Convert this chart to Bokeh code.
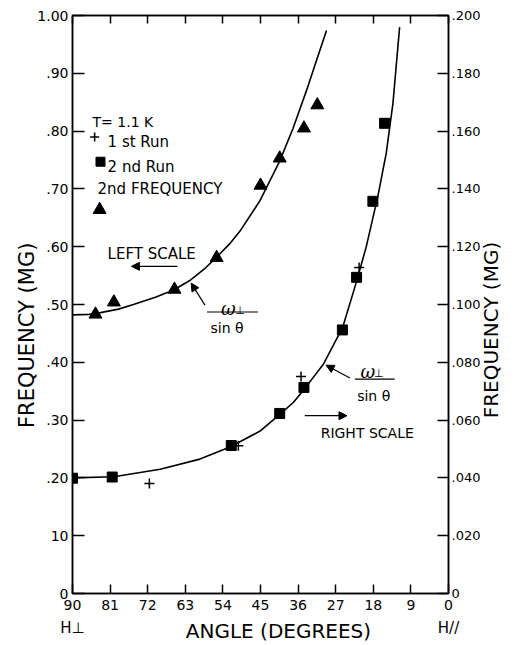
import math
from bokeh.plotting import figure
from bokeh.models import (Range1d, LinearAxis, FixedTicker, Label, Arrow, NormalHead)
from bokeh.embed import file_html
from bokeh.resources import INLINE

# ---------------- data ----------------
angle_ticks = [90, 81, 72, 63, 54, 45, 36, 27, 18, 9, 0]
angle_labels = ["90", "81", "72", "63", "54", "45", "36", "27", "18", "9", "0"]

left_ticks = [0.0, 0.1, 0.2, 0.3, 0.4, 0.5, 0.6, 0.7, 0.8, 0.9, 1.0]
left_labels = ["0", "10", ".20", ".30", ".40", ".50", ".60", ".70", ".80", ".90", "1.00"]

right_ticks = [0.0, 0.02, 0.04, 0.06, 0.08, 0.1, 0.12, 0.14, 0.16, 0.18, 0.2]
right_labels = ["0", ".020", ".040", ".060", ".080", ".100", ".120", ".140", ".160", ".180", ".200"]

# 2nd frequency (triangles, left scale)
freq2_angle = [84.5, 80.1, 65.6, 55.5, 45.0, 40.4, 34.6, 31.4]
freq2_value = [0.483, 0.504, 0.526, 0.581, 0.706, 0.753, 0.805, 0.845]

# 2nd run (squares, right scale)
run2_angle = [90, 80.5, 52.0, 40.4, 34.6, 25.4, 22.0, 18.1, 15.3]
run2_value = [0.0399, 0.0403, 0.0512, 0.0623, 0.0713, 0.0912, 0.1094, 0.1357, 0.1627]

# 1st run (crosses, right scale)
run1_angle = [71.6, 50.3, 35.3, 21.4]
run1_value = [0.0381, 0.0511, 0.0751, 0.1128]

# omega_perp / sin(theta) curve, left scale
curveL_angle = [90, 86.0, 83.3, 79.0, 75.4, 70.0, 65.8, 61.8, 58.5, 55.5, 52.5, 49.9, 45.1, 40.4, 37.2, 34.0, 31.6, 29.2]
curveL_value = [0.482, 0.483, 0.486, 0.492, 0.500, 0.513, 0.525, 0.542, 0.561, 0.582, 0.604, 0.627, 0.680, 0.748, 0.805, 0.870, 0.922, 0.974]

# omega_perp / sin(theta) curve, right scale
curveR_angle = [90, 80.1, 69.0, 59.5, 52.3, 45.1, 40.4, 37.2, 34.8, 30.0, 25.3, 22.0, 19.65, 16.9, 14.9, 13.3, 11.7]
curveR_value = [0.0400, 0.0404, 0.0430, 0.0465, 0.0507, 0.0562, 0.0620, 0.0660, 0.0702, 0.0792,
                0.0922, 0.1080, 0.1202, 0.1375, 0.1524, 0.1696, 0.1960]

# axis titles
freq_title = "FREQUENCY (MG)"
angle_title = "ANGLE (DEGREES)"
h_perp = "H⊥"
h_par = "H//"

FONT = "DejaVu Sans"

p = figure(width=518, height=645, x_range=Range1d(90, 0), y_range=Range1d(0, 1.0),
           x_axis_type=None, y_axis_type=None, output_backend="svg", toolbar_location=None)
p.extra_y_ranges = {"right": Range1d(0, 0.2)}
p.min_border_left = 72
p.min_border_right = 69
p.min_border_top = 15
p.min_border_bottom = 49
p.outline_line_color = "black"
p.outline_line_width = 1.5
p.background_fill_color = "white"
p.border_fill_color = "white"


def style_axis(ax, tick_in, size="14px"):
    ax.major_tick_in = tick_in
    ax.major_tick_out = 0
    ax.minor_tick_line_color = None
    ax.axis_line_color = "black"
    ax.axis_line_width = 1.5
    ax.major_tick_line_width = 1.5
    ax.major_tick_line_color = "black"
    ax.major_label_text_font = FONT
    ax.major_label_text_font_size = size
    ax.major_label_text_color = "black"


def title_axis(ax, size, standoff):
    ax.major_tick_in = 0
    ax.major_tick_out = 0
    ax.major_tick_line_color = None
    ax.minor_tick_line_color = None
    ax.axis_line_color = None
    ax.major_label_text_font = FONT
    ax.major_label_text_font_size = size
    ax.major_label_text_color = "black"
    ax.major_label_standoff = standoff


# ---- left side
left = LinearAxis(ticker=FixedTicker(ticks=left_ticks),
                  major_label_overrides=dict(zip(left_ticks, left_labels)))
style_axis(left, 12)
left.major_label_standoff = 4
p.add_layout(left, "left")

left_t = LinearAxis(ticker=FixedTicker(ticks=[0.607]), major_label_overrides={0.607: freq_title},
                    major_label_orientation=math.pi / 2)
title_axis(left_t, "21px", 7)
p.add_layout(left_t, "left")

# ---- right side
right = LinearAxis(y_range_name="right", ticker=FixedTicker(ticks=right_ticks),
                   major_label_overrides=dict(zip(right_ticks, right_labels)))
style_axis(right, 11, size="13px")
right.major_label_standoff = 3
p.add_layout(right, "right")

right_t = LinearAxis(ticker=FixedTicker(ticks=[0.303]), major_label_overrides={0.303: freq_title},
                     major_label_orientation=math.pi / 2)
title_axis(right_t, "20px", 8)
p.add_layout(right_t, "right")

# ---- bottom
bottom = LinearAxis(ticker=FixedTicker(ticks=angle_ticks),
                    major_label_overrides=dict(zip(angle_ticks, angle_labels)))
style_axis(bottom, 9)
bottom.major_label_standoff = 6
p.add_layout(bottom, "below")

bottom_h = LinearAxis(ticker=FixedTicker(ticks=[90, 0]),
                      major_label_overrides={90: h_perp, 0: h_par})
title_axis(bottom_h, "15px", 6)
p.add_layout(bottom_h, "below")

bottom_t = LinearAxis(ticker=FixedTicker(ticks=[40.7]), major_label_overrides={40.7: angle_title})
title_axis(bottom_t, "20px", -21)
p.add_layout(bottom_t, "below")

# ---- top (ticks only)
top = LinearAxis(ticker=FixedTicker(ticks=angle_ticks),
                 major_label_overrides={t: "" for t in angle_ticks})
style_axis(top, 8, size="0px")
top.major_label_standoff = 0
p.add_layout(top, "above")

# curves
p.line(curveL_angle, curveL_value, line_color="black", line_width=1.6)
p.line(curveR_angle, curveR_value, y_range_name="right", line_color="black", line_width=1.6)

# points
p.scatter(freq2_angle, freq2_value, marker="triangle", size=13, color="black")
p.scatter(run2_angle, run2_value, y_range_name="right", marker="square", size=10, color="black")
p.scatter(run1_angle, run1_value, y_range_name="right", marker="cross", size=10,
          line_color="black", line_width=1.5)


def lab(x, y, text, size="14px", align="left", font=FONT, style="normal"):
    p.add_layout(Label(x=x, y=y, text=text, text_font=font, text_font_size=size,
                       text_align=align, text_baseline="alphabetic", text_font_style=style,
                       text_color="black"))


def arrow(x0, y0, x1, y1, head=True):
    end = NormalHead(size=8, line_color="black", fill_color="black", line_width=1) if head else None
    p.add_layout(Arrow(x_start=x0, y_start=y0, x_end=x1, y_end=y1, end=end,
                       line_color="black", line_width=1.2))


# legend-like annotations
lab(85.2, 0.816, "T= 1.1 K", size="14px")
p.scatter([84.7], [0.790], marker="cross", size=9, line_color="black", line_width=1.5)
lab(81.6, 0.781, "1 st Run", size="15px")
p.scatter([83.3], [0.747], marker="square", size=9, color="black")
lab(81.6, 0.738, "2 nd Run", size="15px")
lab(84.0, 0.700, "2nd FREQUENCY", size="15px")
p.scatter([83.5], [0.664], marker="triangle", size=13, color="black")

# left scale note
lab(81.6, 0.587, "LEFT SCALE", size="15px")
arrow(64.9, 0.566, 75.9, 0.566)

# left fraction  (omega_perp / sin theta)
lab(52.7, 0.493, "ω", size="18px", align="center", font="DejaVu Serif", style="italic")
lab(49.9, 0.490, "⊥", size="11px", align="center")
arrow(57.8, 0.487, 45.6, 0.487, head=False)
lab(53.0, 0.460, "sin θ", size="14px", align="center")
arrow(58.3, 0.499, 61.6, 0.537)

# right fraction
lab(19.3, 0.384, "ω", size="18px", align="center", font="DejaVu Serif", style="italic")
lab(16.7, 0.380, "⊥", size="11px", align="center")
arrow(22.4, 0.371, 12.9, 0.371, head=False)
lab(17.9, 0.341, "sin θ", size="14px", align="center")
arrow(23.6, 0.373, 29.3, 0.395)

# right scale note
lab(30.6, 0.277, "RIGHT SCALE", size="14px")
arrow(34.4, 0.3076, 24.3, 0.3076)

open("out.html", "w").write(file_html(p, INLINE))
